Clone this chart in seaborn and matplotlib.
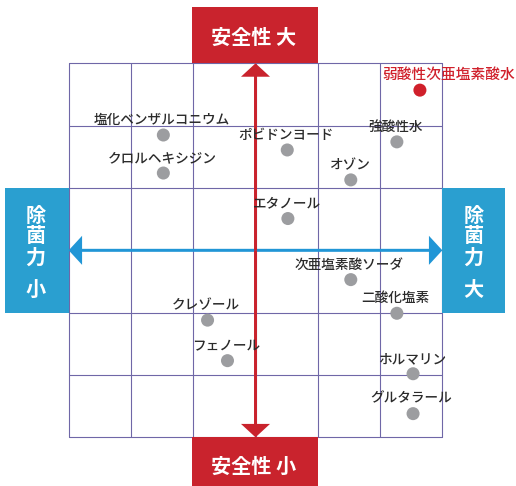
import matplotlib.pyplot as plt
from matplotlib.patches import Rectangle
import seaborn as sns
import pandas as pd

# --- Data (grid units: efficacy -> x, safety -> y, centre = 0) ---
names = ['塩化ベンザルコニウム', 'クロルヘキシジン', 'ポビドンヨード', '強酸性水',
         'オゾン', 'エタノール', '次亜塩素酸ソーダ', '二酸化塩素',
         'クレゾール', 'フェノール', 'ホルマリン', 'グルタラール']
efficacy = [-1.48, -1.48, 0.51, 2.27, 1.53, 0.52, 1.53, 2.27, -0.77, -0.45, 2.53, 2.53]
safety = [1.85, 1.24, 1.61, 1.74, 1.13, 0.51, -0.47, -1.01, -1.12, -1.77, -1.98, -2.62]

highlight_name = ['弱酸性次亜塩素酸水']
highlight_efficacy = [2.64]
highlight_safety = [2.57]

grid_ticks = [-3, -2, -1, 0, 1, 2, 3]

# --- Styling ---
sns.set_theme(style='white')
plt.rcParams['font.family'] = ['Noto Sans CJK JP', 'DejaVu Sans']

RED = '#c9232d'
BLUE_BOX = '#2a9fd0'
BLUE_ARROW = '#2196d6'
GRID = '#6f67a7'
DOT = '#9c9da0'
TEXT = '#2b2b2b'

fig = plt.figure(figsize=(5.16, 4.86), dpi=100)
ax = fig.add_axes([0, 0, 1, 1])
ax.axis('off')

# grid
for t in grid_ticks:
    ax.plot([t, t], [-3, 3], color=GRID, lw=0.8, zorder=1)
    ax.plot([-3, 3], [t, t], color=GRID, lw=0.8, zorder=1)

# label boxes
ax.add_patch(Rectangle((-1.02, 3.0), 2.02, 0.9, color=RED, lw=0, zorder=2))
ax.add_patch(Rectangle((-1.02, -3.9), 2.02, 0.9, color=RED, lw=0, zorder=2))
ax.add_patch(Rectangle((-4.02, -1.0), 1.02, 2.0, color=BLUE_BOX, lw=0, zorder=2))
ax.add_patch(Rectangle((3.0, -1.0), 1.01, 2.0, color=BLUE_BOX, lw=0, zorder=2))

box_font = dict(color='white', fontsize=14.5, fontweight='bold', ha='center', va='center')
ax.text(-0.03, 3.42, '安全性 大', **box_font, zorder=3)
ax.text(-0.03, -3.46, '安全性 小', **box_font, zorder=3)
ax.text(-3.53, 0.23, '除\n菌\n力', linespacing=1.0, **box_font, zorder=3)
ax.text(-3.53, -0.62, '小', **box_font, zorder=3)
ax.text(3.50, 0.23, '除\n菌\n力', linespacing=1.0, **box_font, zorder=3)
ax.text(3.50, -0.62, '大', **box_font, zorder=3)

# arrows (blue under red)
arrow_kw = dict(width=0.048, head_width=0.466, head_length=0.215,
                length_includes_head=True, lw=0)
ax.arrow(0, 0, -3, 0, color=BLUE_ARROW, zorder=4, **arrow_kw)
ax.arrow(0, 0, 3, 0, color=BLUE_ARROW, zorder=4, **arrow_kw)
ax.arrow(0, 0, 0, 3, color=RED, zorder=5, **arrow_kw)
ax.arrow(0, 0, 0, -3, color=RED, zorder=5, **arrow_kw)

# points
df = pd.DataFrame({'name': names, 'efficacy': efficacy, 'safety': safety})
sns.scatterplot(data=df, x='efficacy', y='safety', ax=ax, color=DOT,
                s=88, edgecolor='none', zorder=6)
hl = pd.DataFrame({'name': highlight_name, 'efficacy': highlight_efficacy,
                   'safety': highlight_safety})
sns.scatterplot(data=hl, x='efficacy', y='safety', ax=ax, color='#d0202b',
                s=88, edgecolor='none', zorder=6)
ax.set_xlim(-4.103, 4.183)
ax.set_ylim(-3.781, 4.016)

for _, r in df.iterrows():
    ax.annotate(r['name'], (r['efficacy'], r['safety']), xytext=(-1, 10.8),
                textcoords='offset points', ha='center', va='center',
                fontsize=9.8, fontweight='medium', color=TEXT, zorder=7)
for _, r in hl.iterrows():
    ax.annotate(r['name'], (r['efficacy'], r['safety']), xytext=(20.5, 10.8),
                textcoords='offset points', ha='center', va='center',
                fontsize=10.6, fontweight='medium', color='#d0202b', zorder=7)

fig.savefig('out.png', dpi=100)
